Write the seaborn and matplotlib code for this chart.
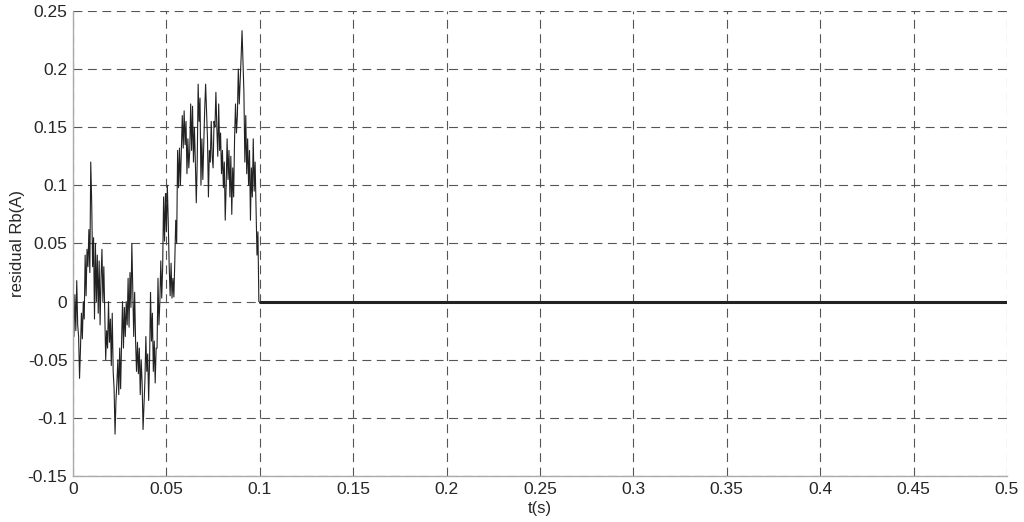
import numpy as np
import pandas as pd
import matplotlib
matplotlib.use("Agg")
import matplotlib.pyplot as plt
import seaborn as sns

# residual, 0.5 ms steps from t=0 to t=0.0995 s
residual = [
    -0.005, -0.03, 0.006, -0.025, 0.018, -0.02, -0.03, -0.066, -0.04, -0.01,
    -0.032, 0.0, -0.015, 0.04, 0.005, 0.045, 0.03, 0.062, 0.025, 0.12,
    0.085, 0.03, 0.055, -0.015, 0.05, 0.0, 0.04, -0.01, 0.035, -0.02,
    0.02, 0.045, 0.0, 0.03, -0.01, -0.05, -0.025, -0.04, 0.0, -0.035,
    -0.015, -0.055, -0.01, -0.06, -0.075, -0.114, -0.085, -0.07, -0.05, -0.08,
    -0.04, -0.075, -0.035, 0.0, -0.04, -0.005, -0.03, 0.0, -0.02, 0.02,
    -0.022, 0.025, -0.005, 0.05, 0.01, -0.03, 0.008, -0.034, -0.06, -0.035,
    -0.062, -0.04, -0.08, -0.05, -0.07, -0.11, -0.09, -0.068, -0.03, -0.06,
    -0.045, -0.085, -0.05, 0.008, -0.034, -0.01, -0.06, -0.034, -0.07, -0.04,
    -0.04, 0.02, -0.02, 0.0, 0.035, 0.003, 0.03, 0.09, 0.052, 0.093,
    0.06, 0.1, 0.068, 0.03, 0.005, 0.033, 0.003, 0.02, 0.004, 0.035,
    0.07, 0.05, 0.13, 0.098, 0.132, 0.1, 0.13, 0.16, 0.132, 0.164,
    0.135, 0.155, 0.11, 0.14, 0.115, 0.13, 0.17, 0.13, 0.168, 0.12,
    0.15, 0.12, 0.085, 0.12, 0.187, 0.155, 0.175, 0.1, 0.14, 0.105,
    0.135, 0.165, 0.187, 0.164, 0.14, 0.09, 0.13, 0.12, 0.155, 0.125,
    0.115, 0.155, 0.15, 0.18, 0.15, 0.125, 0.17, 0.13, 0.145, 0.11,
    0.13, 0.098, 0.12, 0.07, 0.1, 0.14, 0.105, 0.13, 0.09, 0.125,
    0.075, 0.115, 0.09, 0.14, 0.17, 0.145, 0.16, 0.2, 0.17, 0.19,
    0.21, 0.233, 0.207, 0.18, 0.12, 0.16, 0.11, 0.14, 0.1, 0.13,
    0.07, 0.115, 0.09, 0.14, 0.095, 0.12, 0.08, 0.04, 0.06, 0.0,
]
dt = 0.0005

# after the fault is cleared the residual sits at zero
tail_t = [0.1, 0.5]
tail_v = [0.0, 0.0]

xticks = [0, 0.05, 0.1, 0.15, 0.2, 0.25, 0.3, 0.35, 0.4, 0.45, 0.5]
xticklabels = ["0", "0.05", "0.1", "0.15", "0.2", "0.25", "0.3", "0.35", "0.4", "0.45", "0.5"]
yticks = [-0.15, -0.1, -0.05, 0, 0.05, 0.1, 0.15, 0.2, 0.25]
yticklabels = ["-0.15", "-0.1", "-0.05", "0", "0.05", "0.1", "0.15", "0.2", "0.25"]

sns.set_style("white")
plt.rcParams['font.family'] = ['Liberation Sans', 'DejaVu Sans']

df = pd.DataFrame({"t": np.arange(len(residual)) * dt, "r": residual})

fig = plt.figure(figsize=(10.24, 5.22), dpi=100)
ax = fig.add_axes([0.0713, 0.0881, 0.912, 0.891])

sns.lineplot(data=df, x="t", y="r", ax=ax, color="#222222", linewidth=0.8)
sns.lineplot(x=tail_t, y=tail_v, ax=ax, color="#222222", linewidth=2.2)

ax.set_xlim(0, 0.5)
ax.set_ylim(-0.15, 0.25)
ax.set_xticks(xticks)
ax.set_xticklabels(xticklabels)
ax.set_yticks(yticks)
ax.set_yticklabels(yticklabels)
ax.tick_params(axis="both", labelsize=12.5, length=3, color="#999999", pad=1)

ax.grid(True, color="#555555", linestyle=(0, (8, 5)), linewidth=0.8)
for side in ["top", "right"]:
    ax.spines[side].set_visible(False)
for side in ["left", "bottom"]:
    ax.spines[side].set_color("#aaaaaa")
    ax.spines[side].set_linewidth(1.0)

ax.set_xlabel("t(s)", fontsize=12, labelpad=3)
ax.set_ylabel("residual Rb(A)", fontsize=12, labelpad=2)

fig.savefig("out.png", dpi=100)
